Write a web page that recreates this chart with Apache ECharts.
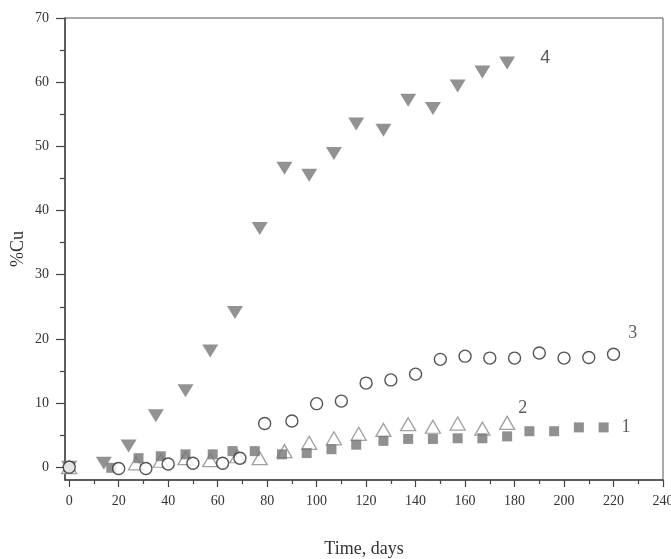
<!DOCTYPE html>
<html>
<head>
<meta charset="utf-8">
<script src="https://cdn.jsdelivr.net/npm/echarts@6/dist/echarts.min.js"></script>
<style>
html,body{margin:0;padding:0;background:#fff;}
#c{width:671px;height:559px;}
</style>
</head>
<body>
<div id="c"></div>
<script>
// Series 1: filled squares
var days1 = [0, 17, 28, 37, 47, 58, 66, 75, 86, 96, 106, 116, 127, 137, 147, 157, 167, 177, 186, 196, 206, 216];
var cu1   = [0, -0.1, 1.4, 1.7, 2.0, 2.0, 2.5, 2.5, 2.0, 2.2, 2.8, 3.5, 4.1, 4.4, 4.4, 4.5, 4.5, 4.8, 5.6, 5.6, 6.2, 6.2];
// Series 2: open up-triangles
var days2 = [0, 27, 37, 47, 57, 68, 77, 87, 97, 107, 117, 127, 137, 147, 157, 167, 177];
var cu2   = [0, 0.6, 1.0, 1.4, 1.1, 1.7, 1.4, 2.5, 3.8, 4.5, 5.2, 5.8, 6.7, 6.3, 6.8, 6.0, 6.9];
// Series 3: open circles
var days3 = [0, 20, 31, 40, 50, 62, 69, 79, 90, 100, 110, 120, 130, 140, 150, 160, 170, 180, 190, 200, 210, 220];
var cu3   = [0, -0.2, -0.2, 0.5, 0.6, 0.6, 1.4, 6.8, 7.2, 9.9, 10.3, 13.1, 13.6, 14.5, 16.8, 17.3, 17.0, 17.0, 17.8, 17.0, 17.1, 17.6];
// Series 4: filled down-triangles
var days4 = [0, 14, 24, 35, 47, 57, 67, 77, 87, 97, 107, 116, 127, 137, 147, 157, 167, 177];
var cu4   = [0, 0.6, 3.3, 8.0, 11.9, 18.1, 24.1, 37.2, 46.6, 45.5, 48.9, 53.5, 52.5, 57.2, 55.9, 59.4, 61.6, 63.0];
// Curve labels
var curveNames = ['1', '2', '3', '4'];
// Axis ticks
var xMajor = [0, 20, 40, 60, 80, 100, 120, 140, 160, 180, 200, 220, 240];
var xMinor = [10, 30, 50, 70, 90, 110, 130, 150, 170, 190, 210, 230];
var yMajor = [0, 10, 20, 30, 40, 50, 60, 70];
var yMinor = [5, 15, 25, 35, 45, 55, 65];

var serif = '"Liberation Serif", "DejaVu Serif", serif';
var sans = '"Liberation Sans", Arial, sans-serif';

function build(days, vals, lab, labOffset, font) {
  return days.map(function (d, i) {
    var item = { value: [d, vals[i]] };
    if (i === days.length - 1) {
      item.label = {
        show: true, formatter: lab, position: 'right', offset: labOffset,
        fontFamily: font || serif, fontSize: 18, color: '#333'
      };
    }
    return item;
  });
}

var axisCol = '#444';
var xMin = -1.7, yMin = -2;
var chart = echarts.init(document.getElementById('c'), null, { renderer: 'canvas' });
chart.setOption({
  backgroundColor: '#ffffff',
  animation: false,
  grid: { left: 65, right: 8, top: 18, bottom: 79, show: true, borderColor: '#555', borderWidth: 1,
          backgroundColor: 'transparent', outerBoundsMode: 'none', containLabel: false },
  xAxis: [{
    type: 'value', min: xMin, max: 240,
    name: 'Time, days', nameLocation: 'middle', nameGap: 60, nameMoveOverlap: false,
    nameTextStyle: { fontFamily: serif, fontSize: 18, color: '#333' },
    axisLine: { show: true, onZero: false, lineStyle: { color: axisCol, width: 1.5 } },
    axisTick: { show: true, customValues: xMajor, length: 7, lineStyle: { color: axisCol, width: 1.2 } },
    axisLabel: { customValues: xMajor, fontFamily: serif, fontSize: 14, color: '#333', margin: 14 },
    splitLine: { show: false }
  }, {
    type: 'value', min: xMin, max: 240, position: 'bottom',
    axisLine: { show: false, onZero: false },
    axisTick: { show: true, customValues: xMinor, length: 4, lineStyle: { color: axisCol, width: 1.2 } },
    axisLabel: { show: false, customValues: xMinor },
    splitLine: { show: false }
  }],
  yAxis: [{
    type: 'value', min: yMin, max: 70,
    name: '%Cu', nameLocation: 'middle', nameGap: 38, nameRotate: 90, nameMoveOverlap: false,
    nameTextStyle: { fontFamily: serif, fontSize: 18, color: '#333' },
    axisLine: { show: true, onZero: false, lineStyle: { color: axisCol, width: 1.5 } },
    axisTick: { show: true, customValues: yMajor, length: 9, lineStyle: { color: axisCol, width: 1.2 } },
    axisLabel: { customValues: yMajor, fontFamily: serif, fontSize: 14, color: '#333', margin: 16 },
    splitLine: { show: false }
  }, {
    type: 'value', min: yMin, max: 70, position: 'left',
    axisLine: { show: false, onZero: false },
    axisTick: { show: true, customValues: yMinor, length: 5, lineStyle: { color: axisCol, width: 1.2 } },
    axisLabel: { show: false, customValues: yMinor },
    splitLine: { show: false }
  }],
  series: [{
    type: 'scatter', name: curveNames[1], xAxisIndex: 0, yAxisIndex: 0,
    symbol: 'triangle', symbolSize: [15, 13],
    itemStyle: { color: '#fff', borderColor: '#888', borderWidth: 1.3 },
    data: build(days2, cu2, curveNames[1], [-2, -15])
  }, {
    type: 'scatter', name: curveNames[0], xAxisIndex: 0, yAxisIndex: 0,
    symbol: 'rect', symbolSize: 10,
    itemStyle: { color: '#747474' },
    data: build(days1, cu1, curveNames[0], [8, 0])
  }, {
    type: 'scatter', name: curveNames[3], xAxisIndex: 0, yAxisIndex: 0,
    symbol: 'triangle', symbolRotate: 180, symbolSize: [16, 13],
    itemStyle: { color: '#777' },
    data: build(days4, cu4, curveNames[3], [20, -5], sans)
  }, {
    type: 'scatter', name: curveNames[2], xAxisIndex: 0, yAxisIndex: 0,
    symbol: 'circle', symbolSize: 12,
    itemStyle: { color: '#fff', borderColor: '#2a2a2a', borderWidth: 1.4 },
    data: build(days3, cu3, curveNames[2], [3, -21])
  }]
});
</script>
</body>
</html>
